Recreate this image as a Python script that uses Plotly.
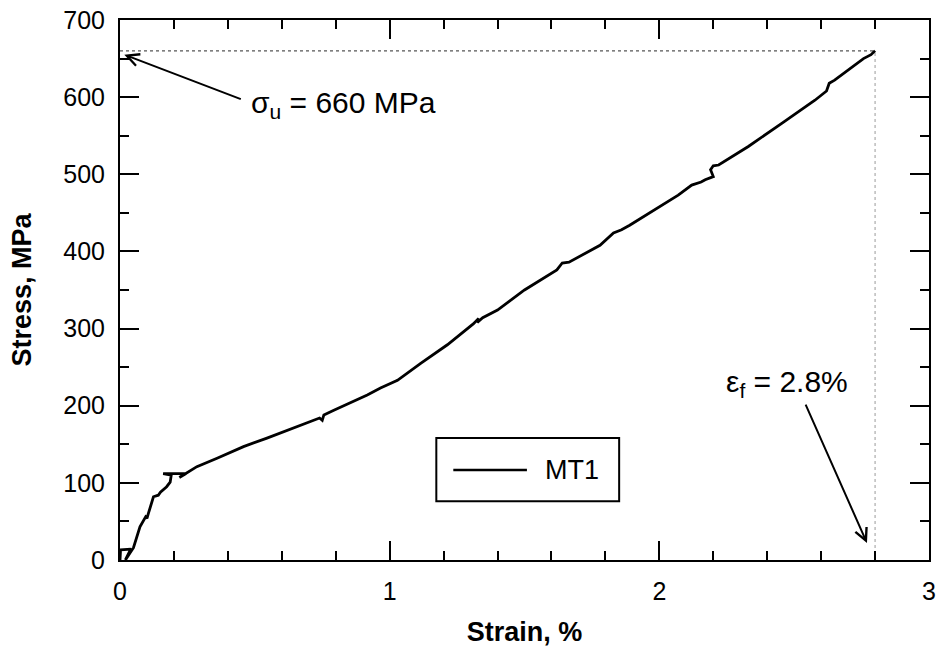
import plotly.graph_objects as go

# Tensile test MT1: strain (%) vs stress (MPa)
strain = [0.0, 0.002, 0.04, 0.02, 0.05, 0.074, 0.095, 0.1, 0.105, 0.124, 0.142,
          0.15, 0.173, 0.186, 0.19, 0.16, 0.245, 0.22, 0.25, 0.285, 0.36, 0.458,
          0.545, 0.669, 0.74, 0.75, 0.756, 0.793, 0.917, 0.966, 1.029, 1.115,
          1.214, 1.31, 1.33, 1.325, 1.345, 1.40, 1.50, 1.62, 1.64, 1.665, 1.71,
          1.78, 1.83, 1.86, 1.89, 1.97, 2.07, 2.12, 2.155, 2.17, 2.2, 2.19, 2.2,
          2.22, 2.33, 2.454, 2.577, 2.62, 2.63, 2.65, 2.757, 2.785, 2.8]
stress = [0, 13, 14, 0, 16, 43, 56, 54, 60, 82, 84, 88, 95, 101, 110, 112, 112,
          107, 113, 121, 132, 147, 158, 175, 184, 181, 188, 194, 214, 223, 233,
          255, 279, 306, 313, 308, 314, 324, 350, 376, 385, 386, 395, 408, 424,
          428, 434, 451, 473, 486, 490, 493, 497, 506, 511, 512, 536, 566, 596,
          608, 618, 622, 650, 655, 660]

series_name = "MT1"
ultimate_stress = 660   # MPa
failure_strain = 2.8    # %

x_ticks = [0, 1, 2, 3]
y_ticks = [0, 100, 200, 300, 400, 500, 600, 700]

FONT = "Liberation Sans, Arial, sans-serif"

fig = go.Figure()

# reference lines for ultimate stress and failure strain
fig.add_trace(go.Scatter(
    x=[0, failure_strain], y=[ultimate_stress, ultimate_stress],
    mode="lines", line=dict(color="#555555", width=1.2, dash="dot"),
    showlegend=False, hoverinfo="skip"))
fig.add_trace(go.Scatter(
    x=[failure_strain, failure_strain], y=[0, ultimate_stress],
    mode="lines", line=dict(color="#9a9a9a", width=1, dash="dot"),
    showlegend=False, hoverinfo="skip"))

fig.add_trace(go.Scatter(
    x=strain, y=stress, mode="lines", name=series_name,
    line=dict(color="black", width=2.8), showlegend=False))

axis_common = dict(
    showgrid=False, zeroline=False, showline=True, linecolor="black",
    linewidth=2, mirror="ticks", ticks="inside", tickcolor="black",
    tickwidth=2, ticklen=19, automargin=False,
    tickfont=dict(family=FONT, size=25, color="black"),
)

fig.update_xaxes(
    range=[0, 3], tickvals=x_ticks, ticktext=[str(v) for v in x_ticks],
    minor=dict(dtick=0.2, ticks="inside", ticklen=9, tickwidth=1.6,
               tickcolor="black", showgrid=False),
    ticklabelstandoff=8,
    title=dict(text="Strain, %", standoff=18,
               font=dict(family=FONT, size=27, color="black", weight="bold")),
    **axis_common)
fig.update_yaxes(
    range=[0, 700], tickvals=y_ticks, ticktext=[str(v) for v in y_ticks],
    minor=dict(dtick=50, ticks="inside", ticklen=9, tickwidth=1.6,
               tickcolor="black", showgrid=False),
    ticklabelstandoff=8,
    title=dict(text="Stress, MPa", standoff=24,
               font=dict(family=FONT, size=27, color="black", weight="bold")),
    **axis_common)

# ultimate stress callout
fig.add_annotation(
    x=0.016, y=655, xref="x", yref="y", ax=118, ay=45,
    text="", showarrow=True, arrowhead=5, arrowsize=1.2, arrowwidth=2,
    arrowcolor="black", standoff=0)
fig.add_annotation(
    x=0.48, y=590, xref="x", yref="y", showarrow=False,
    text="σ<sub>u</sub> = %d MPa" % ultimate_stress,
    xanchor="left", yanchor="middle",
    font=dict(family=FONT, size=30, color="black"))

# failure strain callout
fig.add_annotation(
    x=2.77, y=22, xref="x", yref="y",
    text="", showarrow=True, arrowhead=5, arrowsize=1.2, arrowwidth=2,
    arrowcolor="black", ax=-62, ay=-140, standoff=0)
fig.add_annotation(
    x=2.475, y=229, xref="x", yref="y", showarrow=False,
    text="ε<sub>f</sub> = %.1f%%" % failure_strain,
    xanchor="center", yanchor="middle",
    font=dict(family=FONT, size=30, color="black"))

# legend box drawn in paper coordinates
fig.add_shape(type="rect", xref="paper", yref="paper",
              x0=0.391, x1=0.617, y0=0.109, y1=0.226,
              line=dict(color="black", width=2), fillcolor="white", layer="above")
fig.add_shape(type="line", xref="paper", yref="paper",
              x0=0.412, x1=0.503, y0=0.1667, y1=0.1667,
              line=dict(color="black", width=2.6), layer="above")
fig.add_annotation(xref="paper", yref="paper", x=0.523, y=0.1667,
                   text=series_name, showarrow=False, xanchor="left",
                   yanchor="middle",
                   font=dict(family=FONT, size=27, color="black"))

fig.update_layout(
    width=937, height=653,
    margin=dict(l=120, r=8, t=20, b=93),
    paper_bgcolor="white", plot_bgcolor="white",
    font=dict(family=FONT, color="black"),
)

fig.write_html("out.html")
